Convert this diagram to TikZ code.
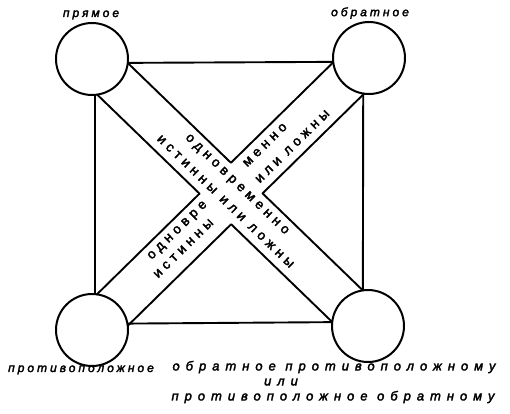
\documentclass[tikz,border=0pt]{standalone}
\usepackage{fontspec}
\newfontfamily\hand[FakeBold=2.5]{Liberation Sans}
\usetikzlibrary{calc}
\begin{document}
\begin{tikzpicture}[x=1pt,y=-1pt,
  ln/.style={line width=1.9pt, line join=round, line cap=round},
  ball/.style={circle, draw, line width=2pt, minimum size=72pt, inner sep=0pt},
  lbl/.style={inner sep=0pt, font=\hand\itshape\fontsize{12}{14}\selectfont\addfontfeatures{LetterSpace=25}},
  wlbl/.style={inner sep=0pt, font=\hand\itshape\fontsize{13}{15}\selectfont\addfontfeatures{LetterSpace=46}},
  btxt/.style={inner sep=0pt, font=\hand\fontsize{13.5}{15}\selectfont\addfontfeatures{LetterSpace=32}}]
\useasboundingbox (0,0) rectangle (510,413);
\node[ball] (A) at (92,59) {};
\node[ball] (B) at (369,58) {};
\node[ball] (C) at (92,330) {};
\node[ball] (D) at (368,326) {};
\draw[ln] (A.-6) -- (B.186);
\draw[ln] (C.10) -- (D.174);
\draw[ln] (A.-85) -- (C.85);
\draw[ln] (B.-99) -- (D.98);
\coordinate (ADm) at ($(A)!28.5pt!(D)$);
\coordinate (AD1) at ($(ADm)!22pt!90:(D)$);
\coordinate (AD2) at ($(ADm)!22pt!-90:(D)$);
\coordinate (DAm) at ($(D)!28.5pt!(A)$);
\coordinate (DA1) at ($(DAm)!22pt!-90:(A)$);
\coordinate (DA2) at ($(DAm)!22pt!90:(A)$);
\coordinate (BCm) at ($(B)!28.5pt!(C)$);
\coordinate (BC1) at ($(BCm)!22pt!90:(C)$);
\coordinate (BC2) at ($(BCm)!22pt!-90:(C)$);
\coordinate (CBm) at ($(C)!28.5pt!(B)$);
\coordinate (CB1) at ($(CBm)!22pt!-90:(B)$);
\coordinate (CB2) at ($(CBm)!22pt!90:(B)$);
\coordinate (T) at (intersection of AD1--DA1 and BC2--CB2);
\coordinate (R) at (intersection of AD1--DA1 and BC1--CB1);
\coordinate (Bt) at (intersection of AD2--DA2 and BC1--CB1);
\coordinate (L) at (intersection of AD2--DA2 and BC2--CB2);
\draw[ln] (AD1) -- (T) -- (BC2);
\draw[ln] (BC1) -- (R) -- (DA1);
\draw[ln] (DA2) -- (Bt) -- (CB1);
\draw[ln] (CB2) -- (L) -- (AD2);
% corner labels
\node[lbl] (lA) at (91,15) {прямое};
\node[lbl] (lB) at (370,13) {обратное};
\node[lbl] (lC) at (81,370) {противоположное};
\node[wlbl] (lD1) at (334,367) {обратное противоположному};
\node[wlbl] (lD2) at (281,382) {или};
\node[wlbl] (lD3) at (333,397) {противоположное обратному};
% band texts
\node[btxt, rotate=-44] (t1) at (236.5,185) {одновременно};
\node[btxt, rotate=-44] (t2) at (225.5,201.5) {истинны или ложны};
\node[btxt, rotate=44.5] (t3) at (178,231) {одновре};
\node[btxt, rotate=44.5] (t4) at (183.5,248.5) {истинны};
\node[btxt, rotate=44.5] (t5) at (265,145) {менно};
\node[btxt, rotate=44.5] (t6) at (292.5,146.5) {или ложны};
\end{tikzpicture}
\end{document}
